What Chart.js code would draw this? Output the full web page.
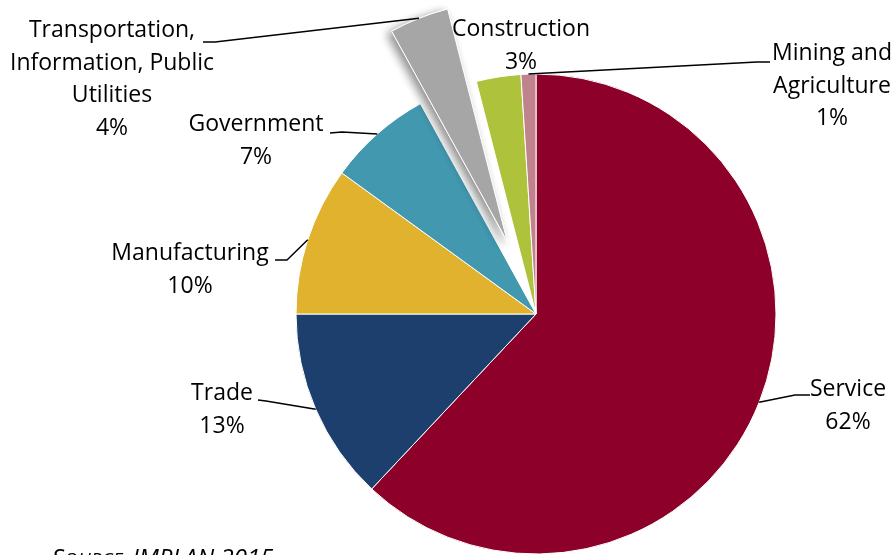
<!DOCTYPE html>
<html>
<head>
<meta charset="utf-8">
<script src="https://cdn.jsdelivr.net/npm/chart.js@4/dist/chart.umd.min.js"></script>
<style>
  html, body { margin: 0; padding: 0; background: #fff; }
  #wrap { width: 896px; height: 555px; position: relative; }
</style>
</head>
<body>
<div id="wrap"><canvas id="sectorChart" width="896" height="555"></canvas></div>
<script>
// Employment share by sector
const sectors = ['Service', 'Trade', 'Manufacturing', 'Government',
    'Transportation, Information, Public Utilities', 'Construction', 'Mining and Agriculture'];
const shares = [62, 13, 10, 7, 4, 3, 1];
const sliceColors = ['#8C0029', '#1C3F6E', '#E1B22D', '#4298AF', '#A6A6A6', '#AEC23B', '#C0838B'];
// how each label is wrapped on the chart
const labelLines = [
    ['Service'],
    ['Trade'],
    ['Manufacturing'],
    ['Government'],
    ['Transportation,', 'Information, Public', 'Utilities'],
    ['Construction'],
    ['Mining and', 'Agriculture']
];
const sourceNote = 'IMPLAN 2015';

const EXPLODED = 4;      // the pulled-out slice
const EXPLODE_PX = 78;

// label placement: text centre x, first baseline y, leader start + elbow (null = no leader)
const labelPos = [
    { x: 848, y: 396, lead: [[810, 395], [795, 395]] },
    { x: 222, y: 400, lead: [[258, 400], [266, 401]] },
    { x: 190, y: 260, lead: [[275, 260], [287, 260]] },
    { x: 256, y: 131, lead: [[330, 133], [342, 132]] },
    { x: 112, y: 37,  lead: [[203, 42], [215, 42]] },
    { x: 521, y: 36,  lead: null },
    { x: 832, y: 60,  lead: [[770, 62], [757, 62]] }
];
const LINE_H = 32.5;
const FONT = '"Open Sans", "Noto Sans", sans-serif';

// pull one slice out from the centre and give it a soft shadow
const explodePlugin = {
    id: 'explode',
    beforeDatasetsDraw(chart) {
        const arc = chart.getDatasetMeta(0).data[EXPLODED];
        if (!arc || arc._exploded) return;
        const baseDraw = arc.draw;
        arc.draw = function (ctx) {
            const mid = (this.startAngle + this.endAngle) / 2;
            ctx.save();
            ctx.translate(Math.cos(mid) * EXPLODE_PX, Math.sin(mid) * EXPLODE_PX);
            // shadow pass, then a clean pass on top
            ctx.save();
            ctx.shadowColor = 'rgba(0,0,0,0.45)';
            ctx.shadowBlur = 10;
            ctx.shadowOffsetX = -4;
            ctx.shadowOffsetY = 3;
            baseDraw.call(this, ctx);
            ctx.restore();
            baseDraw.call(this, ctx);
            ctx.restore();
        };
        arc._exploded = true;
    }
};

// category labels with leader lines + source note
const labelPlugin = {
    id: 'sliceLabels',
    afterDraw(chart) {
        const ctx = chart.ctx;
        const arcs = chart.getDatasetMeta(0).data;
        ctx.save();
        ctx.fillStyle = '#000';
        ctx.strokeStyle = '#000';
        ctx.lineWidth = 1.5;
        ctx.textAlign = 'center';
        ctx.textBaseline = 'alphabetic';
        ctx.font = '23px ' + FONT;

        arcs.forEach((arc, i) => {
            const pos = labelPos[i];
            const lines = labelLines[i].concat([shares[i] + '%']);
            lines.forEach((t, k) => ctx.fillText(t, pos.x, pos.y + k * LINE_H));

            if (pos.lead) {
                const mid = (arc.startAngle + arc.endAngle) / 2;
                const off = i === EXPLODED ? EXPLODE_PX : 0;
                const r = arc.outerRadius + off;
                const ex = arc.x + Math.cos(mid) * r;
                const ey = arc.y + Math.sin(mid) * r;
                ctx.beginPath();
                ctx.moveTo(pos.lead[0][0], pos.lead[0][1]);
                ctx.lineTo(pos.lead[1][0], pos.lead[1][1]);
                ctx.lineTo(ex, ey);
                ctx.stroke();
            }
        });

        // "Source:" in italic small caps
        ctx.textAlign = 'left';
        let x = 52;
        const y = 566;
        ctx.font = 'italic 24px ' + FONT;
        ctx.fillText('S', x, y);
        x += ctx.measureText('S').width;
        ctx.font = 'italic 19px ' + FONT;
        ctx.fillText('OURCE:', x, y);
        x += ctx.measureText('OURCE: ').width;
        ctx.font = 'italic 24px ' + FONT;
        ctx.fillText(sourceNote, x, y);
        ctx.restore();
    }
};

const ctx = document.getElementById('sectorChart').getContext('2d');
const myChart = new Chart(ctx, {
    type: 'pie',
    data: {
        labels: sectors,
        datasets: [{
            data: shares,
            backgroundColor: sliceColors,
            borderColor: '#ffffff',
            borderWidth: 1
        }]
    },
    options: {
        responsive: false,
        devicePixelRatio: 1,
        animation: false,
        radius: 240,
        layout: { padding: { left: 176, right: 0, top: 73, bottom: 0 } },
        plugins: {
            legend: { display: false },
            tooltip: { enabled: false }
        }
    },
    plugins: [explodePlugin, labelPlugin]
});
</script>
</body>
</html>
